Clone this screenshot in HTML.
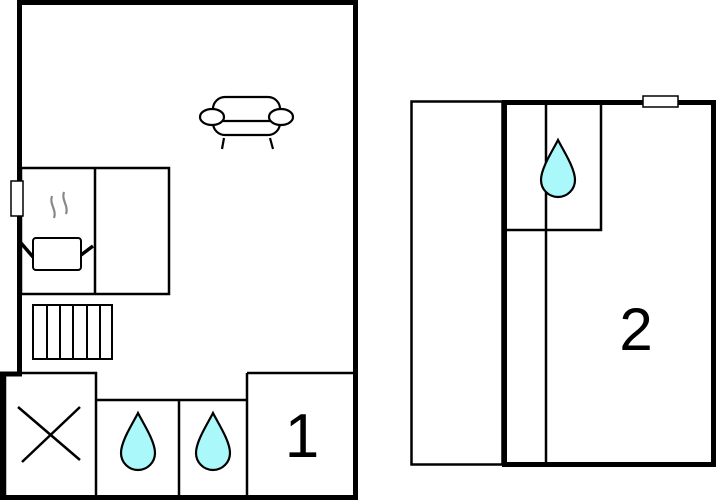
<!DOCTYPE html>
<html><head><style>html,body{margin:0;padding:0;background:#fff}svg{display:block}</style></head>
<body>
<svg width="716" height="500" viewBox="0 0 716 500" xmlns="http://www.w3.org/2000/svg">
<defs>
<path id="drop" d="M0,0 C-5,10 -17,28 -17,40 A17,17 0 0 0 17,40 C17,28 5,10 0,0Z" fill="#aaf8fa" stroke="#000" stroke-width="2.2"/>
</defs>
<g fill="none" stroke="#000">
<path d="M19.5,374 V2.5 H355.5 V497.5 H2.5 V374 H22" stroke-width="5"/>
<rect x="21" y="168" width="148" height="126" stroke-width="2.5"/>
<line x1="95" y1="168" x2="95" y2="294" stroke-width="2.5"/>
<rect x="33" y="305" width="79" height="54" stroke-width="2"/>
<line x1="47" y1="305" x2="47" y2="359" stroke-width="2"/>
<line x1="60" y1="305" x2="60" y2="359" stroke-width="2"/>
<line x1="73" y1="305" x2="73" y2="359" stroke-width="2"/>
<line x1="87" y1="305" x2="87" y2="359" stroke-width="2"/>
<line x1="100" y1="305" x2="100" y2="359" stroke-width="2"/>
<rect x="5" y="373" width="91" height="124" stroke-width="2.5"/>
<line x1="18" y1="407" x2="80" y2="460" stroke-width="2.5"/>
<line x1="80" y1="407" x2="22" y2="462" stroke-width="2.5"/>
<path d="M96,400 H247 M179,400 V497 M247,373 V497 M247,373 H355" stroke-width="2.5"/>
<rect x="11" y="181" width="12" height="35" fill="#fff" stroke-width="1.5"/>
<rect x="33" y="238" width="48" height="32" rx="3" fill="#fff" stroke-width="2"/>
<line x1="21" y1="243" x2="33" y2="257" stroke-width="3.5"/>
<line x1="81" y1="255" x2="93" y2="246" stroke-width="3.5"/>
<path d="M52,196 C49,204 57,210 54,218 M64,192 C61,200 69,206 66,214" stroke="#888" stroke-width="2.2"/>
<rect x="213" y="97" width="67" height="38" rx="12" fill="#fff" stroke-width="2.2"/>
<line x1="213" y1="121" x2="280" y2="121" stroke-width="2.2"/>
<ellipse cx="212" cy="117" rx="12" ry="8" fill="#fff" stroke-width="2.2"/>
<ellipse cx="281" cy="117" rx="12" ry="8" fill="#fff" stroke-width="2.2"/>
<line x1="224" y1="138" x2="222" y2="149" stroke-width="2.2"/>
<line x1="270" y1="138" x2="273" y2="149" stroke-width="2.2"/>
<rect x="411.5" y="101.5" width="91" height="363" stroke-width="2.5"/>
<rect x="504.5" y="102.5" width="209" height="362" stroke-width="5"/>
<rect x="505" y="102" width="96" height="128" stroke-width="2.5"/>
<line x1="546" y1="102" x2="546" y2="464" stroke-width="2.5"/>
<rect x="643" y="96" width="35" height="11" fill="#fff" stroke-width="1.5"/>
</g>
<use href="#drop" x="138" y="413"/>
<use href="#drop" x="213" y="413"/>
<use href="#drop" x="558" y="140"/>
<text x="302" y="457" font-family="Liberation Sans, sans-serif" font-size="62" text-anchor="middle">1</text>
<text x="636" y="350" font-family="Liberation Sans, sans-serif" font-size="60" text-anchor="middle">2</text>
</svg>
</body></html>
